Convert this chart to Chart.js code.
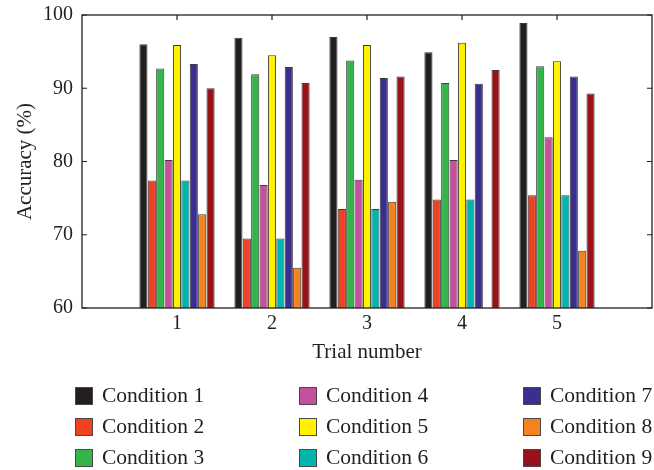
<!DOCTYPE html>
<html>
<head>
<meta charset="utf-8">
<script src="https://cdn.jsdelivr.net/npm/chart.js@4"></script>
<style>
  html, body { margin: 0; padding: 0; background: #ffffff; }
  #wrap { position: relative; width: 654px; height: 470px; overflow: hidden; }
  #c { position: absolute; left: 0; top: 0; }
  #legend {
    position: absolute; left: 75px; top: 380px;
    display: grid; grid-auto-flow: column;
    grid-template-columns: repeat(3, 224px);
    grid-template-rows: repeat(3, 31px);
    font-family: "Liberation Serif", "DejaVu Serif", serif;
    font-size: 21.5px; color: #231f20;
  }
  .item { display: flex; align-items: center; white-space: nowrap; }
  .sw { width: 16px; height: 16px; border: 1px solid #4a4a4a; margin-right: 9px; flex: none; }
</style>
</head>
<body>
<div id="wrap">
  <canvas id="c" width="654" height="470"></canvas>
  <div id="legend"></div>
</div>
<script>
// ---- data ----
const trials = [1, 2, 3, 4, 5];
const xTickLabels = ['1', '2', '3', '4', '5'];
const yTickValues = [60, 70, 80, 90, 100];
const seriesNames = ['Condition 1', 'Condition 2', 'Condition 3', 'Condition 4', 'Condition 5',
                     'Condition 6', 'Condition 7', 'Condition 8', 'Condition 9'];
const condition1 = [96.0, 96.9, 97.0, 94.9, 98.9];
const condition2 = [77.4, 69.5, 73.5, 74.8, 75.4];
const condition3 = [92.7, 91.9, 93.8, 90.7, 93.0];
const condition4 = [80.2, 76.8, 77.5, 80.2, 83.3];
const condition5 = [95.9, 94.5, 95.9, 96.2, 93.7];
const condition6 = [77.4, 69.5, 73.5, 74.8, 75.4];
const condition7 = [93.3, 92.9, 91.4, 90.6, 91.6];
const condition8 = [72.8, 65.5, 74.5, null, 67.8];
const condition9 = [90.0, 90.7, 91.6, 92.5, 89.3];
const seriesColors = ['#231f20', '#ef4123', '#34b44a', '#c4519c', '#fff200',
                      '#00b5ad', '#3a2f8f', '#f58220', '#981218'];

const allSeries = [condition1, condition2, condition3, condition4, condition5,
                   condition6, condition7, condition8, condition9];

const FONT = '"Liberation Serif", "DejaVu Serif", serif';
const INK = '#231f20';

const datasets = allSeries.map((vals, i) => ({
  label: seriesNames[i],
  data: vals.map((v, j) => ({ x: trials[j], y: v })),
  backgroundColor: seriesColors[i],
  borderColor: '#3c3c3c',
  borderWidth: 1,
  borderSkipped: false,
  categoryPercentage: 0.795,
  barPercentage: 0.97
}));

const boxPlugin = {
  id: 'boxTicks',
  beforeDatasetsDraw(chart) {
    const { ctx, chartArea: a, scales: { x, y } } = chart;
    const L = 5;
    ctx.save();
    ctx.strokeStyle = INK;
    ctx.lineWidth = 1.2;
    ctx.beginPath();
    x.ticks.forEach(t => {
      const px = x.getPixelForValue(t.value);
      ctx.moveTo(px, a.top); ctx.lineTo(px, a.top + L);
      ctx.moveTo(px, a.bottom); ctx.lineTo(px, a.bottom - L);
    });
    y.ticks.forEach(t => {
      const py = y.getPixelForValue(t.value);
      ctx.moveTo(a.left, py); ctx.lineTo(a.left + L, py);
      ctx.moveTo(a.right, py); ctx.lineTo(a.right - L, py);
    });
    ctx.stroke();
    ctx.restore();
  },
  afterDatasetsDraw(chart) {
    const { ctx, chartArea: a } = chart;
    ctx.save();
    ctx.strokeStyle = INK;
    ctx.lineWidth = 1.3;
    ctx.strokeRect(a.left, a.top, a.right - a.left, a.bottom - a.top);
    ctx.restore();
  }
};

const chart = new Chart(document.getElementById('c'), {
  type: 'bar',
  data: { datasets },
  options: {
    responsive: false,
    animation: false,
    devicePixelRatio: 1,
    layout: { padding: { left: 0, top: 15, right: 2, bottom: 105 } },
    plugins: { legend: { display: false }, tooltip: { enabled: false } },
    scales: {
      x: {
        type: 'linear',
        min: 0, max: 6,
        offset: false,
        grid: { display: false, drawTicks: false },
        border: { display: false },
        afterFit(s) { s.height = 57; s.paddingLeft = 0; s.paddingRight = 0; },
        afterBuildTicks(s) { s.ticks = trials.map(v => ({ value: v })); },
        ticks: {
          padding: 4,
          color: INK,
          font: { family: FONT, size: 20 },
          maxRotation: 0,
          callback: (v) => { const k = trials.indexOf(v); return k >= 0 ? xTickLabels[k] : ''; }
        },
        title: {
          display: true, text: 'Trial number', color: INK,
          font: { family: FONT, size: 21 }, padding: { top: 0, bottom: 0 }
        }
      },
      y: {
        min: 60, max: 100,
        grid: { display: false, drawTicks: false },
        border: { display: false },
        afterFit(s) { s.width = 82; s.paddingTop = 0; s.paddingBottom = 0; },
        afterBuildTicks(s) { s.ticks = yTickValues.map(v => ({ value: v })); },
        ticks: {
          padding: 9,
          color: INK,
          font: { family: FONT, size: 20 }
        },
        title: {
          display: true, text: 'Accuracy (%)', color: INK,
          font: { family: FONT, size: 21 }, padding: { top: 13, bottom: 0 }
        }
      }
    }
  },
  plugins: [boxPlugin]
});

// HTML legend built from the chart's datasets (column-major, 3 x 3)
const legendEl = document.getElementById('legend');
chart.data.datasets.forEach(ds => {
  const item = document.createElement('div');
  item.className = 'item';
  const sw = document.createElement('span');
  sw.className = 'sw';
  sw.style.background = ds.backgroundColor;
  const tx = document.createElement('span');
  tx.textContent = ds.label;
  item.appendChild(sw);
  item.appendChild(tx);
  legendEl.appendChild(item);
});
</script>
</body>
</html>
